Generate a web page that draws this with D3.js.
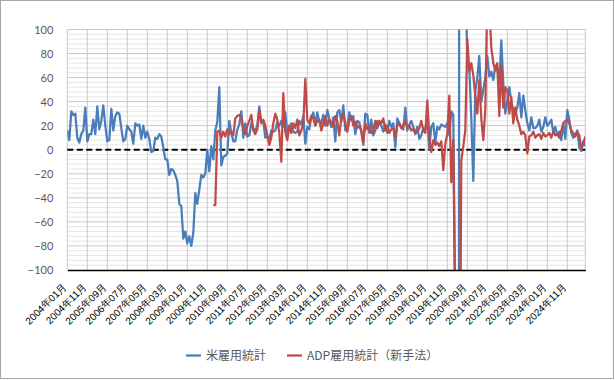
<!DOCTYPE html>
<html><head><meta charset="utf-8">
<script src="https://cdn.jsdelivr.net/npm/d3@7"></script>
<style>
html,body{margin:0;padding:0;background:#fff;}
svg{display:block;font-family:"Noto Sans CJK JP","Noto Sans",sans-serif;}
</style></head>
<body>
<svg id="c" width="615" height="380"></svg>
<script>
// ---- data (万人) ----
const startYear = 2004, startMonth = 1;
const nfp = [
 16, 8, 32, 29, 30, 10, 6, 13, 16, 35, 7, 13,
 13, 25, 13, 36, 17, 24, 37, 20, 7, 8, 34, 16,
 28, 31, 30, 18, 7, 9, 20, 17, 15, 5, 22, 20,
 21, 9, 20, 10, 15, 9, -2, -1, 10, 9, 13, 11,
 2, -8, -8, -21, -16, -17, -21, -26, -45, -47, -74, -68,
 -78, -72, -80, -69, -36, -45, -33, -21, -23, -20, 0, -18,
 3, -8, 16, 23, 52, -13, -6, -5, -3, 24, 14, 7,
 7, 17, 21, 32, 10, 22, 11, 12, 22, 18, 16, 20,
 36, 23, 24, 10, 11, 9, 16, 15, 16, 23, 20, 24,
 19, 31, 14, 19, 22, 15, 14, 15, 24, 21, 28, 5,
 19, 17, 27, 31, 21, 31, 23, 22, 29, 20, 33, 26,
 19, 27, 7, 31, 33, 23, 37, 16, 19, 31, 25, 28,
 13, 24, 23, 15, 4, 30, 29, 14, 25, 12, 16, 24,
 22, 20, 15, 21, 14, 24, 19, 22, 2, 26, 22, 18,
 17, 35, 16, 21, 24, 19, 13, 19, 9, 12, 18, 17,
 24, 1, 19, 22, 6, 19, 17, 21, 20, 19, 22, 12,
 32, 29, -137, -2048, 283, 485, 173, 158, 72, 68, 26, -26,
 49, 60, 78, 40, 50, 60, 78, 61, 65, 58, 70, 68,
 55, 91, 55, 30, 41, 52, 40, 33, 30, 35, 47, 27,
 45, 33, 22, 16, 27, 18, 18, 20, 25, 15, 19, 27,
 20, 22, 25, 14, 19, 12, 15, 8, 22, 9, 33, 25,
 14, 10, 12, 16, 2, -1, 7, 3
];
// ADP (新手法), first value = 2010年02月
const adpStart = "2010年02月";
const adp = [
 -46, -46, 15, 16, 10, 15, 11, 17, 13, 15, 12,
 26, 28, 29, 27, 18, 13, 20, 24, 29, 16, 13, 17,
 33, 22, 25, 20, 12, 4, 10, 22, 30, 25, 14, -10,
 47, 15, 8, 20, 14, 22, 18, 25, 12, 16, 22, 59,
 25, 22, 28, 26, 20, 24, 25, 16, 22, 28, 20, 25,
 22, 19, 28, 24, 12, 26, 30, 22, 15, 24, 28, 20,
 23, 18, 20, 16, 6, 22, 17, 20, 14, 16, 24, 18,
 24, 22, 26, 16, 20, 14, 17, 18, 10, 20, 22, 18,
 21, 24, 18, 20, 16, 17, 14, 15, 18, 24, 16, 14,
 41, 11, -2, 8, 4, 6, 3, 7, -17, 5, 13, 45,
 -27, 8, -150, -1950, -300, -9, 3, 16, 92, 65, 72, 62,
 45, 30, 58, 26, 8, 33, 130, 120, 85, 72, 66, 72,
 28, 70, 35, 52, 49, 30, 44, 22, 35, 25, 20, 13,
 15, 12, -3, 11, 12, 15, 10, 12, 13, 9, 14, 11,
 12, 14, 10, 15, 12, 13, 10, 16, 22, 24, 25, 22,
 16, 14, 11, 15, 12, 1, 5, 11
];
const tickLabels = ["2004年01月","2004年11月","2005年09月","2006年07月","2007年05月","2008年03月",
 "2009年01月","2009年11月","2010年09月","2011年07月","2012年05月","2013年03月","2014年01月",
 "2014年11月","2015年09月","2016年07月","2017年05月","2018年03月","2019年01月","2019年11月",
 "2020年09月","2021年07月","2022年05月","2023年03月","2024年01月","2024年11月"];
const yTicks = [100, 80, 60, 40, 20, 0, -20, -40, -60, -80, -100];
const seriesNames = ["米雇用統計", "ADP雇用統計（新手法）"];
const colors = ["#4a7ebb", "#be4b48"];

// categories
const categories = nfp.map((_, i) => {
  const m = (startMonth - 1 + i);
  const y = startYear + Math.floor(m / 12);
  return y + "年" + String(m % 12 + 1).padStart(2, "0") + "月";
});
const adpOffset = categories.indexOf(adpStart);

// ---- layout ----
const svg = d3.select("#c");
const L = 67.3, R = 585.3, T = 29.5, B = 270;
const x = d3.scaleLinear().domain([0, categories.length - 1]).range([L, R]);
const y = d3.scaleLinear().domain([-100, 100]).range([B, T]);

// border
svg.append("rect").attr("x", 0.5).attr("y", 0.5).attr("width", 613).attr("height", 378)
  .attr("fill", "#fff").attr("stroke", "#a6a6a6").attr("stroke-width", 1);

// minor grid
const minor = d3.range(-100, 101, 4).filter(v => v % 20 !== 0);
svg.append("g").selectAll("line").data(minor).join("line")
  .attr("x1", L).attr("x2", R).attr("y1", d => y(d)).attr("y2", d => y(d))
  .attr("stroke", "#e6e6e6").attr("stroke-width", 1);
// major horizontal
svg.append("g").selectAll("line").data(yTicks.filter(v => v !== -100)).join("line")
  .attr("x1", L).attr("x2", R).attr("y1", d => y(d)).attr("y2", d => y(d))
  .attr("stroke", "#c8c8c8").attr("stroke-width", 1);
// vertical grid
const tickIdx = tickLabels.map(t => categories.indexOf(t));
const vgrid = tickIdx.concat([categories.length - 1]);
svg.append("g").selectAll("line").data(vgrid).join("line")
  .attr("x1", d => x(d)).attr("x2", d => x(d)).attr("y1", T).attr("y2", B)
  .attr("stroke", "#c8c8c8").attr("stroke-width", 1);

// y labels
const yAxis = d3.axisLeft(y).tickValues(yTicks).tickSize(0).tickPadding(14);
const ya = svg.append("g").attr("transform", `translate(${L},0)`).call(yAxis);
ya.select(".domain").remove();
ya.selectAll("text").attr("fill", "#595959").attr("font-size", 11)
  .attr("font-family", "Lato, 'Noto Sans', sans-serif");

// clip
svg.append("clipPath").attr("id", "clip").append("rect")
  .attr("x", L).attr("y", T).attr("width", R - L).attr("height", B - T);

// zero line
svg.append("line").attr("x1", L).attr("x2", R).attr("y1", y(0)).attr("y2", y(0))
  .attr("stroke", "#000").attr("stroke-width", 2).attr("stroke-dasharray", "6,3.5");

const line = d3.line().x(d => x(d[0])).y(d => y(d[1]));
const g = svg.append("g").attr("clip-path", "url(#clip)");
g.append("path").datum(nfp.map((v, i) => [i, v])).attr("d", line)
  .attr("fill", "none").attr("stroke", colors[0]).attr("stroke-width", 2.25).attr("stroke-linejoin", "round");
g.append("path").datum(adp.map((v, i) => [i + adpOffset, v])).attr("d", line)
  .attr("fill", "none").attr("stroke", colors[1]).attr("stroke-width", 2.25).attr("stroke-linejoin", "round");

// bottom axis
const xAxis = d3.axisBottom(x).tickValues(tickIdx).tickSize(0).tickFormat(d => categories[d]);
const xa = svg.append("g").attr("transform", `translate(0,${B})`).call(xAxis);
xa.select(".domain").attr("stroke", "#000").attr("stroke-width", 1.5);
xa.selectAll("text").attr("fill", "#000").attr("font-size", 10)
  .attr("text-anchor", "end").attr("dy", "0.35em")
  .attr("transform", `translate(-3,15) rotate(-45)`).attr("x", 0).attr("y", 0);

// legend
const leg = svg.append("g").attr("font-size", 12).attr("fill", "#595959");
const legItems = [{x: 186, name: seriesNames[0], c: colors[0]}, {x: 287, name: seriesNames[1], c: colors[1]}];
legItems.forEach(it => {
  leg.append("line").attr("x1", it.x).attr("x2", it.x + 15).attr("y1", 355.5).attr("y2", 355.5)
    .attr("stroke", it.c).attr("stroke-width", 2.25);
  leg.append("text").attr("x", it.x + 20).attr("y", 355.5).attr("dy", "0.35em").attr("fill", "#595959").text(it.name);
});
</script>
</body></html>
